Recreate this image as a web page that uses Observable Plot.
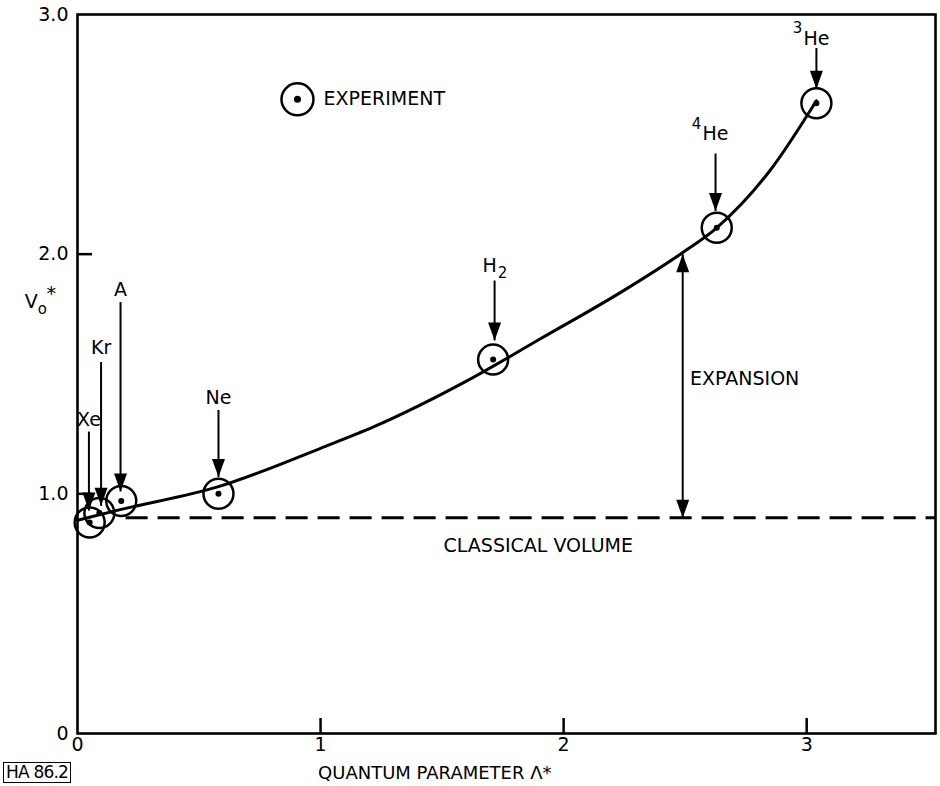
<!DOCTYPE html>
<html><head><meta charset="utf-8">
<script src="https://cdn.jsdelivr.net/npm/d3@7"></script>
<script src="https://cdn.jsdelivr.net/npm/@observablehq/plot@0.6"></script>
<style>
body{margin:0;background:#fff;}
#wrap{position:relative;width:940px;height:786px;}
#tag{position:absolute;left:3px;top:762px;border:1.5px solid #000;font:17px "DejaVu Sans";padding:0 2px;line-height:19px;letter-spacing:-0.8px;}
</style></head><body><div id="wrap"><div id="chart"></div><div id="tag">HA 86.2</div></div>
<script>
// Experimental points
const elements   = ["Xe","Kr","A","Ne","H2","4He","3He"];
const lambdaStar = [0.05, 0.09, 0.18, 0.58, 1.71, 2.63, 3.04];
const volumeStar = [0.88, 0.92, 0.97, 1.00, 1.56, 2.11, 2.63];
// Label arrows (data units)
const arrowX   = [0.047, 0.097, 0.177, 0.58, 1.716, 2.625, 3.04];
const labelY   = [1.31, 1.61, 1.85, 1.40, 1.95, 2.50, 2.90];
const arrowTop = [1.26, 1.55, 1.80, 1.35, 1.89, 2.42, 2.86];
const arrowTip = [0.93, 0.95, 1.01, 1.07, 1.64, 2.18, 2.69];
const labelMain = ["Xe","Kr","A","Ne","H","He","He"];
const labelSup  = ["","","","","","4","3"];
const labelSub  = ["","","","","2","",""];
// Fitted curve
const curveX = [0, 0.18, 0.58, 1.0, 1.22, 1.6, 1.91, 2.25, 2.48, 2.63, 2.85, 3.04];
const curveY = [0.89, 0.935, 1.03, 1.19, 1.28, 1.47, 1.65, 1.85, 2.0, 2.11, 2.35, 2.64];
// Classical volume and expansion
const classicalVolume = 0.90;
const classicalFrom = 0.2;
const expansionX = 2.49;
const expansionTop = 2.0;
// Axes
const xDomain = [0, 3.53];
const yDomain = [0, 3.0];
const xTicks = [0, 1, 2, 3];
const yTicks = [0, 1, 2, 3];
const yTickLabels = ["0", "1.0", "2.0", "3.0"];
// Annotations
const legendPos = {x: 0.905, y: 2.646};
const legendText = {x: 1.012, y: 2.646, text: "EXPERIMENT"};
const expansionText = {x: 2.52, y: 1.48, text: "EXPANSION"};
const classicalText = {x: 1.506, y: 0.783, text: "CLASSICAL VOLUME"};
const xLabel = {x: 1.47, y: -0.165, text: "QUANTUM PARAMETER \u039B*"};
const yLabel = {x: -0.19, y: 1.80, text: "V"};

const points = elements.map((e, i) => ({e, x: lambdaStar[i], y: volumeStar[i]}));
const labels = elements.map((e, i) => ({e, ax: arrowX[i], ly: labelY[i], top: arrowTop[i], tip: arrowTip[i], main: labelMain[i], sup: labelSup[i], sub: labelSub[i]}));
const curve = curveX.map((x, i) => ({x, y: curveY[i]}));

const HW = 6.5, HL = 18;
const headDown = {draw(ctx) { ctx.moveTo(0, 0); ctx.lineTo(-HW, -HL); ctx.lineTo(HW, -HL); ctx.closePath(); }};
const headUp = {draw(ctx) { ctx.moveTo(0, 0); ctx.lineTo(-HW, HL); ctx.lineTo(HW, HL); ctx.closePath(); }};

const W = 940, H = 786, ML = 77, MR = 5, MT = 14, MB = 53;
const innerW = W - ML - MR, innerH = H - MT - MB;
const font = {fontFamily: "DejaVu Sans", fontSize: 19};

const chart = Plot.plot({
  width: W, height: H,
  marginLeft: ML, marginRight: MR, marginTop: MT, marginBottom: MB,
  style: {fontFamily: "DejaVu Sans", fontSize: "19px", color: "black", background: "white", overflow: "visible"},
  x: {domain: xDomain, axis: null},
  y: {domain: yDomain, axis: null},
  marks: [
    Plot.axisX(xTicks, {tickSize: 0, tickPadding: 4, fontSize: 19, label: null, tickFormat: d => String(d)}),
    Plot.axisY(yTicks, {tickSize: 0, tickPadding: 9, fontSize: 19, label: null, tickFormat: d => yTickLabels[yTicks.indexOf(d)]}),
    Plot.tickX([1, 2, 3], {insetTop: innerH - 15, strokeWidth: 2.5}),
    Plot.tickY([1, 2], {insetRight: innerW - 15, strokeWidth: 2.5}),
    Plot.frame({strokeWidth: 2.6}),
    Plot.ruleY([classicalVolume], {x1: classicalFrom, x2: xDomain[1], strokeWidth: 3, strokeDasharray: "22,10"}),
    Plot.line(curve, {x: "x", y: "y", curve: "monotone-x", strokeWidth: 3}),
    Plot.dot(points, {x: "x", y: "y", r: 15, stroke: "black", strokeWidth: 2.5, fill: "none"}),
    Plot.dot(points, {x: "x", y: "y", r: 3, fill: "black"}),
    Plot.link(labels, {x1: "ax", x2: "ax", y1: "top", y2: "tip", strokeWidth: 2}),
    Plot.dot(labels, {x: "ax", y: "tip", symbol: headDown, fill: "black", stroke: "none"}),
    Plot.text(labels.filter(d => !d.sub), {x: "ax", y: "ly", text: "main", ...font}),
    Plot.text(labels.filter(d => d.sub), {x: "ax", y: "ly", text: "main", dx: -5, ...font}),
    Plot.text(labels.filter(d => d.sub), {x: "ax", y: "ly", text: "sub", dx: 8, dy: 7, fontFamily: "DejaVu Sans", fontSize: 15}),
    Plot.text(labels.filter(d => d.sup), {x: "ax", y: "ly", text: "sup", dx: -19, dy: -10, fontFamily: "DejaVu Sans", fontSize: 15}),
    Plot.link([{x: expansionX, y1: classicalVolume, y2: expansionTop}], {x1: "x", x2: "x", y1: "y1", y2: "y2", strokeWidth: 2}),
    Plot.dot([{x: expansionX, y: expansionTop}], {x: "x", y: "y", symbol: headUp, fill: "black", stroke: "none"}),
    Plot.dot([{x: expansionX, y: classicalVolume}], {x: "x", y: "y", symbol: headDown, fill: "black", stroke: "none"}),
    Plot.dot([legendPos], {x: "x", y: "y", r: 16, stroke: "black", strokeWidth: 2.5, fill: "none"}),
    Plot.dot([legendPos], {x: "x", y: "y", r: 3.5, fill: "black"}),
    Plot.text([legendText], {x: "x", y: "y", text: "text", textAnchor: "start", ...font}),
    Plot.text([expansionText], {x: "x", y: "y", text: "text", textAnchor: "start", ...font}),
    Plot.text([classicalText], {x: "x", y: "y", text: "text", textAnchor: "start", ...font}),
    Plot.text([xLabel], {x: "x", y: "y", text: "text", fontFamily: "DejaVu Sans", fontSize: 18}),
    Plot.text([yLabel], {x: "x", y: "y", text: "text", ...font}),
    Plot.text([yLabel], {x: "x", y: "y", text: () => "o", dx: 11, dy: 7, fontFamily: "DejaVu Sans", fontSize: 15}),
    Plot.text([yLabel], {x: "x", y: "y", text: () => "*", dx: 20, dy: -8, fontFamily: "DejaVu Sans", fontSize: 19})
  ]
});
document.getElementById("chart").appendChild(chart);
</script>
</body></html>
